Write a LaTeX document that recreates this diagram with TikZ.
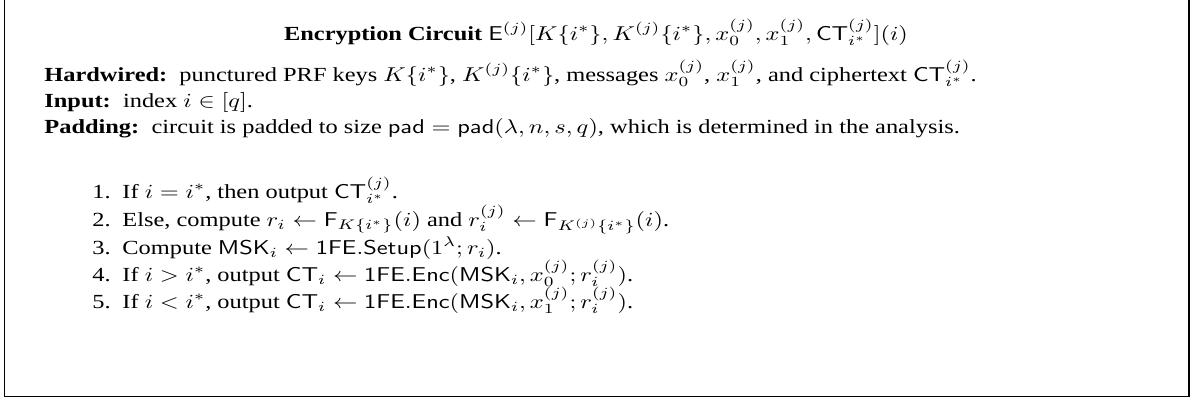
\documentclass[tikz,border=0pt]{standalone}
\usepackage{amsmath}
\usepackage[no-math]{fontspec}
\setmainfont{Liberation Serif}
\newcommand{\wide}[1]{\scalebox{1.22}[1]{#1}}
\begin{document}
\begin{tikzpicture}[x=0.5pt,y=-0.5pt,
  txt/.style={inner sep=0pt,anchor=base west,font=\fontsize{10pt}{12pt}\selectfont},
  lbl/.style={inner sep=0pt,anchor=base east,font=\fontsize{10pt}{12pt}\selectfont},
  frame/.style={draw=black,line width=0.6pt}]
\useasboundingbox (0,0) rectangle (1192,403);
\draw[frame] (4.5,-3) rectangle (1189,396.5);
\node[txt,anchor=base] (title) at (596,40) {\wide{\textbf{Encryption Circuit} $\mathsf{E}^{(j)}[K\{i^*\}, K^{(j)}\{i^*\}, x_0^{(j)}, x_1^{(j)}, \mathsf{CT}_{i^*}^{(j)}](i)$}};
\node[txt] (hw) at (44,81) {\wide{\textbf{Hardwired:}\enspace punctured PRF keys $K\{i^*\}$, $K^{(j)}\{i^*\}$, messages $x_0^{(j)}$, $x_1^{(j)}$, and ciphertext $\mathsf{CT}^{(j)}_{i^*}$.}};
\node[txt] (in) at (44,107) {\wide{\textbf{Input:}\enspace index $i\in[q]$.}};
\node[txt] (pad) at (44,133) {\wide{\textbf{Padding:}\enspace circuit is padded to size $\mathsf{pad}=\mathsf{pad}(\lambda,n,s,q)$, which is determined in the analysis.}};
\node[lbl] (l1) at (111,198) {\wide{1.}};
\node[txt] (s1) at (122,198) {\wide{If $i=i^*$, then output $\mathsf{CT}^{(j)}_{i^*}$.}};
\node[lbl] (l2) at (111,226) {\wide{2.}};
\node[txt] (s2) at (122,226) {\wide{Else, compute $r_i\leftarrow\mathsf{F}_{K\{i^*\}}(i)$ and $r_i^{(j)}\leftarrow\mathsf{F}_{K^{(j)}\{i^*\}}(i)$.}};
\node[lbl] (l3) at (111,254) {\wide{3.}};
\node[txt] (s3) at (122,254) {\wide{Compute $\mathsf{MSK}_i\leftarrow\mathsf{1FE.Setup}(1^\lambda;r_i)$.}};
\node[lbl] (l4) at (111,281) {\wide{4.}};
\node[txt] (s4) at (122,281) {\wide{If $i>i^*$, output $\mathsf{CT}_i\leftarrow\mathsf{1FE.Enc}(\mathsf{MSK}_i,x_0^{(j)};r_i^{(j)})$.}};
\node[lbl] (l5) at (111,308) {\wide{5.}};
\node[txt] (s5) at (122,308) {\wide{If $i<i^*$, output $\mathsf{CT}_i\leftarrow\mathsf{1FE.Enc}(\mathsf{MSK}_i,x_1^{(j)};r_i^{(j)})$.}};
\end{tikzpicture}
\end{document}
